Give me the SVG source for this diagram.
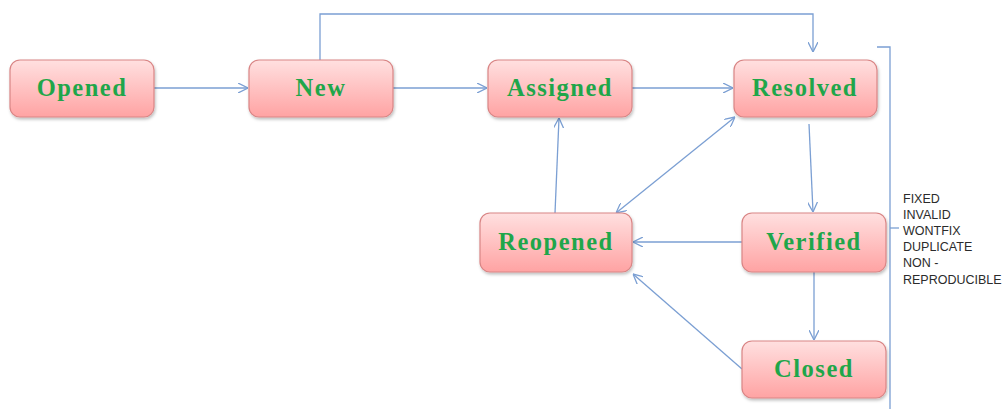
<svg xmlns="http://www.w3.org/2000/svg" width="1007" height="409" viewBox="0 0 1007 409">
<defs>
<linearGradient id="g" x1="0" y1="0" x2="0" y2="1">
<stop offset="0" stop-color="#ffe0e0"/>
<stop offset="1" stop-color="#ffa3a3"/>
</linearGradient>
<filter id="sh" x="-10%" y="-10%" width="130%" height="140%">
<feDropShadow dx="1" dy="2" stdDeviation="1.5" flood-color="#000" flood-opacity="0.25"/>
</filter>
<marker id="ah" viewBox="0 0 10 10" refX="10" refY="5" markerWidth="10" markerHeight="10" markerUnits="userSpaceOnUse" orient="auto-start-reverse">
<path d="M0,0 L10,5 L0,10" fill="none" stroke="#7b9fd3" stroke-width="1.3"/>
</marker>
</defs>
<style>
.box{fill:url(#g);stroke:#d98585;stroke-width:1.2;filter:url(#sh)}
.lbl{font-family:"Liberation Serif",serif;font-weight:bold;font-size:24.5px;letter-spacing:1.5px;fill:#1fa64a;text-anchor:middle}
.c{fill:none;stroke:#7b9fd3;stroke-width:1.3}
.a{marker-end:url(#ah)}
.side{font-family:"Liberation Sans",sans-serif;font-size:12.5px;fill:#2b2b2b}
</style>
<rect width="1007" height="409" fill="#fff"/>
<g id="connectors">
<line class="c a" x1="154" y1="88" x2="248" y2="88"/>
<line class="c a" x1="393" y1="88" x2="487" y2="88"/>
<line class="c a" x1="632" y1="88" x2="733" y2="88"/>
<polyline class="c a" points="320,60 320,14 813,14 813,52"/>
<line class="c a" x1="809" y1="124" x2="813" y2="212"/>
<line class="c a" x1="742" y1="242" x2="633" y2="242"/>
<line class="c a" x1="555" y1="213" x2="559" y2="118"/>
<line class="c a" x1="616" y1="213" x2="735" y2="117" style="marker-start:url(#ah)"/>
<line class="c a" x1="814" y1="272" x2="814" y2="340"/>
<line class="c a" x1="742" y1="369" x2="633" y2="274"/>
<polyline class="c" points="877,47 890,47 890,409"/>
<line class="c" x1="890" y1="228" x2="899" y2="228"/>
</g>
<g id="opened"><rect class="box" x="10" y="60" width="144" height="57" rx="10"/><text class="lbl" x="82" y="96">Opened</text></g>
<g id="new"><rect class="box" x="249" y="60" width="144" height="57" rx="10"/><text class="lbl" x="321" y="96">New</text></g>
<g id="assigned"><rect class="box" x="488" y="60" width="144" height="57" rx="10"/><text class="lbl" x="560" y="96">Assigned</text></g>
<g id="resolved"><rect class="box" x="734" y="60" width="143" height="57" rx="10"/><text class="lbl" x="805" y="96">Resolved</text></g>
<g id="reopened"><rect class="box" x="480" y="213" width="152" height="59" rx="10"/><text class="lbl" x="556" y="250">Reopened</text></g>
<g id="verified"><rect class="box" x="742" y="213" width="144" height="59" rx="10"/><text class="lbl" x="814" y="250">Verified</text></g>
<g id="closed"><rect class="box" x="742" y="341" width="144" height="57" rx="10"/><text class="lbl" x="814" y="377">Closed</text></g>
<g id="resolutions">
<text class="side" x="903" y="203">FIXED</text>
<text class="side" x="903" y="219">INVALID</text>
<text class="side" x="903" y="235">WONTFIX</text>
<text class="side" x="903" y="251">DUPLICATE</text>
<text class="side" x="903" y="267">NON -</text>
<text class="side" x="903" y="284">REPRODUCIBLE</text>
</g>
</svg>
